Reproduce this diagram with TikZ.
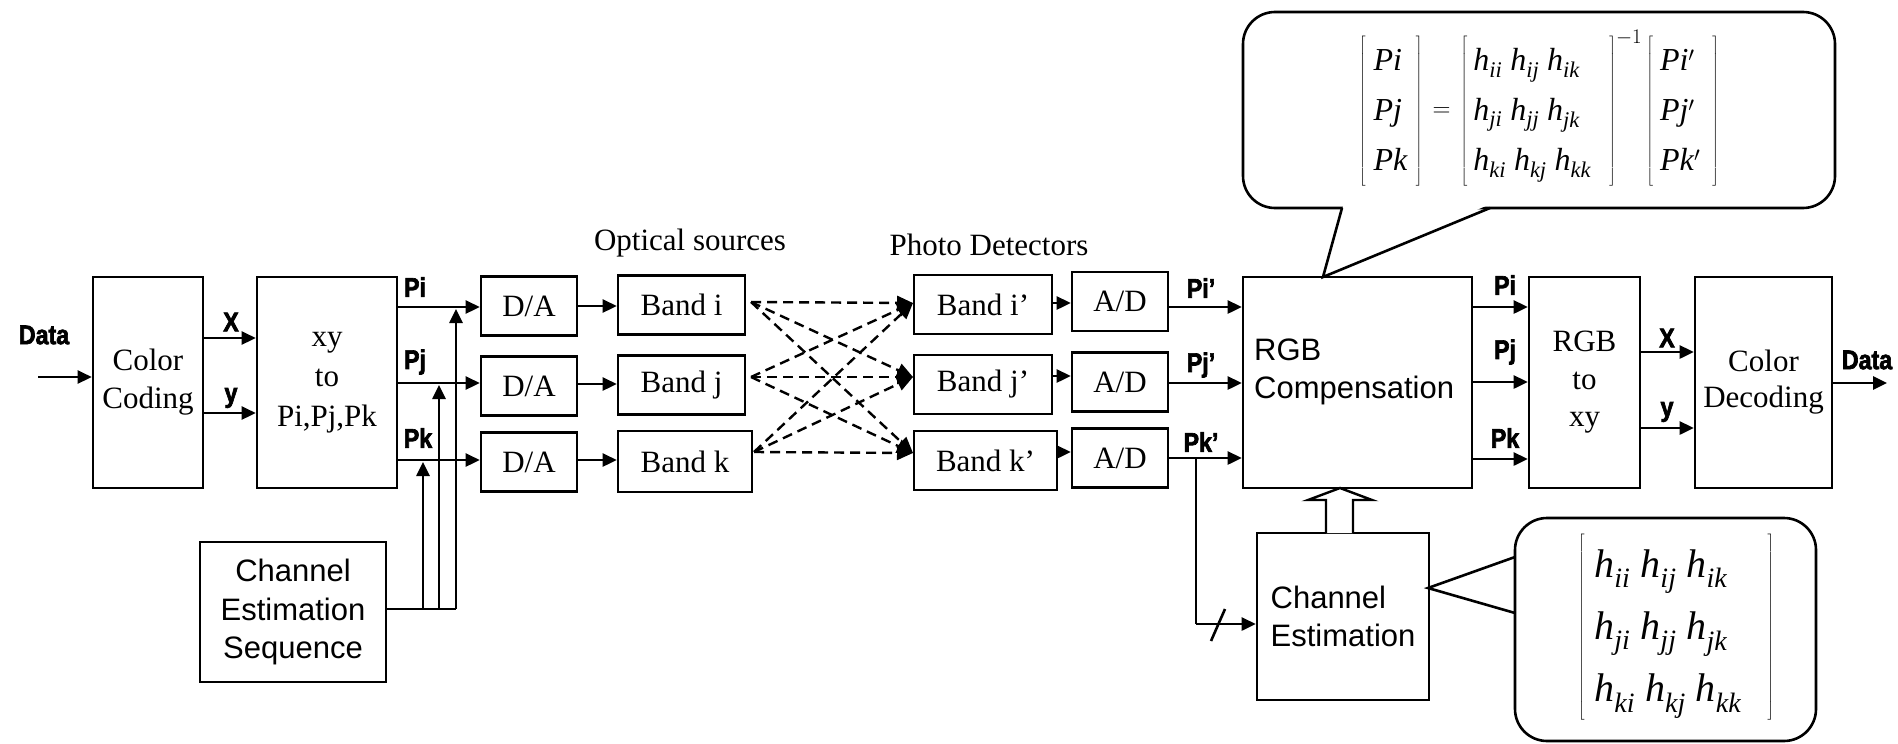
\documentclass[tikz,border=0pt]{standalone}
\usepackage{fontspec}
\setmainfont{Liberation Serif}
\setsansfont{Liberation Sans}
\newfontfamily\lblfont[FakeStretch=0.86,FakeBold=2.5]{Liberation Sans}
\usetikzlibrary{arrows.meta}
\newcommand\hsub[1]{\textit{h}\textsubscript{\textit{#1}}}
\tikzset{
 blk/.style={draw, line width=2.6pt, inner sep=0pt, align=center},
 ser/.style={font=\fontsize{31}{38}\selectfont},
 sans/.style={font=\sffamily\fontsize{31}{38.5}\selectfont},
 lbl/.style={font=\lblfont\bfseries\fontsize{27}{27}\selectfont, inner sep=0pt},
 arr/.style={line width=2.6pt, -{Triangle[length=14pt,width=13pt]}},
 dsh/.style={line width=2.4pt, dash pattern=on 10pt off 6pt, -{Triangle[length=16pt,width=14pt]}},
 ln/.style={line width=2.6pt},
 bub/.style={line width=2.6pt, rounded corners=32pt}
}
\begin{document}
\begin{tikzpicture}[x=1pt,y=-1pt]
\useasboundingbox (0,0) rectangle (1898,744);
% boxes
\node[blk,ser,minimum width=110pt,minimum height=211pt] (cc) at (148,382.5) {Color\\Coding};
\node[blk,font=\fontsize{31}{40}\selectfont,minimum width=140pt,minimum height=211pt] (xy) at (327,382.5) {xy\\to\\Pi,Pj,Pk};
\node[blk,sans,minimum width=186pt,minimum height=140pt] (ces) at (293,612) {Channel\\Estimation\\Sequence};
\node[blk,ser,minimum width=96pt,minimum height=59pt] (da1) at (529,306) {D/A};
\node[blk,ser,minimum width=96pt,minimum height=59pt] (da2) at (529,386) {D/A};
\node[blk,ser,minimum width=96pt,minimum height=59pt] (da3) at (529,462) {D/A};
\node[blk,ser,minimum width=127pt,minimum height=59pt] (bi) at (681.5,305) {Band i};
\node[blk,ser,minimum width=127pt,minimum height=59pt] (bj) at (681.5,385) {Band j};
\node[blk,ser,minimum width=134pt,minimum height=61pt] (bk) at (685,461.5) {Band k};
\node[blk,ser,minimum width=138pt,minimum height=59pt] (di) at (983,304.5) {Band i’};
\node[blk,ser,minimum width=138pt,minimum height=59pt] (dj) at (983,384.5) {Band j’};
\node[blk,ser,minimum width=143pt,minimum height=59pt] (dk) at (985.5,460.5) {Band k’};
\node[blk,ser,minimum width=96pt,minimum height=59pt] (ad1) at (1120,301.5) {A/D};
\node[blk,ser,minimum width=96pt,minimum height=59pt] (ad2) at (1120,382) {A/D};
\node[blk,ser,minimum width=96pt,minimum height=59pt] (ad3) at (1120,458) {A/D};
\node[blk,minimum width=229pt,minimum height=211pt] (rgbc) at (1357.5,382.5) {};
\node[sans,anchor=west,align=left,inner sep=0pt] (rgbt) at (1254,372) {RGB\\Compensation};
\node[blk,sans,align=left,minimum width=172pt,minimum height=167pt] (chest) at (1343,616.5) {Channel\\Estimation};
\node[blk,font=\fontsize{31}{37.5}\selectfont,minimum width=111pt,minimum height=211pt] (rgbxy) at (1584.5,382.5) {RGB\\to\\xy};
\node[blk,font=\fontsize{31}{36}\selectfont,minimum width=137pt,minimum height=211pt] (cd) at (1763.5,382.5) {Color\\Decoding};
% titles
\node[ser,inner sep=0pt] (ost) at (690,243) {Optical sources};
\node[ser,inner sep=0pt] (pdt) at (989,245) {Photo Detectors};
% left side connectors
\coordinate (din) at (38,377);
\draw[arr] (din) -- (cc.west |- din);
\draw[arr] (cc.east |- 0,338) -- (xy.west |- 0,338);
\draw[arr] (cc.east |- 0,413) -- (xy.west |- 0,413);
\draw[arr] (xy.east |- 0,307) -- (da1.west |- 0,307);
\draw[arr] (xy.east |- 0,383) -- (da2.west |- 0,383);
\draw[arr] (xy.east |- 0,460) -- (da3.west |- 0,460);
\coordinate (cj) at (456,609);
\draw[ln] (ces.east |- cj) -- (cj);
\draw[arr] (cj) -- (456,309);
\draw[arr] (439,609) -- (439,385);
\draw[arr] (423,609) -- (423,462);
\draw[arr] (da1.east) -- (bi.west |- da1.east);
\draw[arr] (da2.east |- 0,384) -- (bj.west |- 0,384);
\draw[arr] (da3.east |- 0,460) -- (bk.west |- 0,460);
% optical links
\coordinate (s1) at (751,302);
\coordinate (s2) at (751,377);
\coordinate (s3) at (754,452);
\coordinate (t1) at (913,303);
\coordinate (t2) at (913,377);
\coordinate (t3) at (913,453);
\foreach \s in {s1,s2,s3}{
  \foreach \t in {t1,t2,t3}{
    \draw[dsh] (\s) -- (\t);
  }
}
% detector side
\draw[arr] (di.east |- 0,303) -- (ad1.west |- 0,303);
\draw[arr] (dj.east |- 0,376) -- (ad2.west |- 0,376);
\draw[arr] (dk.east |- 0,452) -- (ad3.west |- 0,452);
\draw[arr] (ad1.east |- 0,307) -- (rgbc.west |- 0,307);
\draw[arr] (ad2.east |- 0,383) -- (rgbc.west |- 0,383);
\draw[arr] (ad3.east |- 0,458) -- (rgbc.west |- 0,458);
\coordinate (br) at (1196,458);
\coordinate (bc) at (1196,624);
\draw[ln] (br) -- (bc);
\draw[arr] (bc) -- (chest.west |- bc);
\draw[ln] (1211,641) -- (1225,609);
% hollow arrow
\draw[line width=2.4pt, fill=white, line join=miter] (1326,533) -- (1326,500) -- (1308,500) -- (1340,488) -- (1372,500) -- (1353,500) -- (1353,533);
% right side
\draw[arr] (rgbc.east |- 0,307) -- (rgbxy.west |- 0,307);
\draw[arr] (rgbc.east |- 0,382) -- (rgbxy.west |- 0,382);
\draw[arr] (rgbc.east |- 0,459) -- (rgbxy.west |- 0,459);
\draw[arr] (rgbxy.east |- 0,352) -- (cd.west |- 0,352);
\draw[arr] (rgbxy.east |- 0,428) -- (cd.west |- 0,428);
\coordinate (dout) at (1887,383);
\draw[arr] (cd.east |- dout) -- (dout);
% labels
\node[lbl] (ldin) at (44,335) {Data};
\node[lbl] (lx1) at (231,322) {X};
\node[lbl] (ly1) at (231,398) {y};
\node[lbl] (lpi1) at (415,287) {Pi};
\node[lbl] (lpj1) at (415,362) {Pj};
\node[lbl] (lpk1) at (418,438) {Pk};
\node[lbl] (lpi2) at (1201,288) {Pi’};
\node[lbl] (lpj2) at (1201,365) {Pj’};
\node[lbl] (lpk2) at (1201,442) {Pk’};
\node[lbl] (lpi3) at (1505,285) {Pi};
\node[lbl] (lpj3) at (1505,352) {Pj};
\node[lbl] (lpk3) at (1505,438) {Pk};
\node[lbl] (lx2) at (1667,338) {X};
\node[lbl] (ly2) at (1667,412) {y};
\node[lbl] (ldout) at (1867,360) {Data};
% big bubble
\draw[bub] (1243,12) rectangle (1835,208);
\fill[white] (1343.5,205) -- (1488,205) -- (1323,277) -- cycle;
\draw[ln, line join=miter] (1342,208) -- (1323,277) -- (1490,208);
\node[font=\fontsize{32}{38.4}\selectfont, inner sep=0pt] (eq) at (1539,108) {\renewcommand\arraystretch{1.3}$\left[\begin{tabular}{@{\hspace{8pt}}l@{\hspace{8pt}}}\textit{Pi}\\ \textit{Pj}\\ \textit{Pk}\end{tabular}\right]\hspace{6pt}\mathord{=}\hspace{6pt}\left[\begin{tabular}{@{\hspace{6pt}}l@{\hspace{18pt}}}\hsub{ii} \hsub{ij} \hsub{ik}\\ \hsub{ji} \hsub{jj} \hsub{jk}\\ \hsub{ki} \hsub{kj} \hsub{kk}\end{tabular}\right]^{-1}\left[\begin{tabular}{@{\hspace{7pt}}l@{\hspace{12pt}}}\textit{Pi}$'$\\ \textit{Pj}$'$\\ \textit{Pk}$'$\end{tabular}\right]$};
% small bubble
\draw[bub] (1515,518) rectangle (1816,741);
\fill[white] (1512,559) -- (1512,611) -- (1428,588) -- cycle;
\draw[ln, line join=miter] (1515,557) -- (1428,588) -- (1515,613);
\node[font=\fontsize{40}{48}\selectfont, inner sep=0pt] (hm) at (1676,627) {\renewcommand\arraystretch{1.3}$\left[\begin{tabular}{@{\hspace{10pt}}l@{\hspace{26pt}}}\hsub{ii} \hsub{ij} \hsub{ik}\\ \hsub{ji} \hsub{jj} \hsub{jk}\\ \hsub{ki} \hsub{kj} \hsub{kk}\end{tabular}\right]$};
\end{tikzpicture}
\end{document}
